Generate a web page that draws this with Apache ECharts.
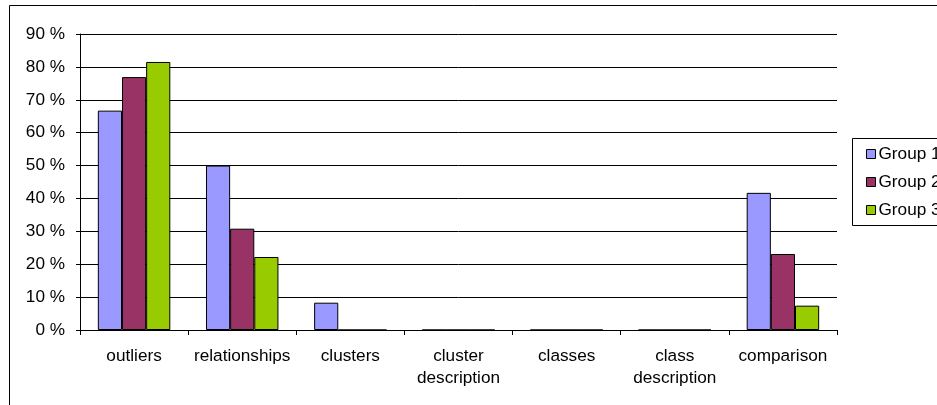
<!DOCTYPE html>
<html>
<head>
<meta charset="utf-8">
<script src="https://cdn.jsdelivr.net/npm/echarts@6/dist/echarts.min.js"></script>
<style>
  html, body { margin: 0; padding: 0; background: #fff; }
  #chart { width: 937px; height: 405px; }
</style>
</head>
<body>
<div id="chart"></div>
<script>
// Task categories shown along the x axis
const categories = ['outliers', 'relationships', 'clusters', 'cluster\ndescription', 'classes', 'class\ndescription', 'comparison'];

// Share of each group (percent) per task category
const group1 = [66.7, 50.0, 8.3, 0, 0, 0, 41.7];
const group2 = [76.9, 30.8, 0, 0, 0, 0, 23.1];
const group3 = [81.5, 22.2, 0, 0, 0, 0, 7.4];

const seriesNames = ['Group 1', 'Group 2', 'Group 3'];
const seriesColors = ['#9999FF', '#993366', '#99CC00'];
const seriesData = [group1, group2, group3];

// Y axis scale (percent)
const yMin = 0, yMax = 90, yStep = 10;

const FONT = 'Liberation Sans, Arial, sans-serif';
const FS = 17.2;

const chart = echarts.init(document.getElementById('chart'), null, { renderer: 'canvas' });

chart.setOption({
  animation: false,
  backgroundColor: '#ffffff',
  graphic: [
    // outer chart frame (runs past the right and bottom edges)
    { type: 'rect', shape: { x: 9.5, y: 5.5, width: 1000, height: 500 },
      style: { fill: 'none', stroke: '#000', lineWidth: 1 }, z: 0 },
    // legend frame
    { type: 'rect', shape: { x: 852.5, y: 138.5, width: 120, height: 87 },
      style: { fill: '#fff', stroke: '#000', lineWidth: 1 }, z: 1 }
  ],
  grid: { left: 80, right: 100, top: 34, bottom: 75, containLabel: false },
  legend: {
    orient: 'vertical',
    left: 861,
    top: 140,
    itemWidth: 9,
    itemHeight: 9,
    itemGap: 10,
    icon: 'rect',
    data: seriesNames,
    itemStyle: { borderColor: '#000', borderWidth: 1 },
    textStyle: { fontFamily: FONT, fontSize: FS, color: '#000', lineHeight: 18, padding: [0, 0, 0, -2] },
    z: 5
  },
  xAxis: {
    type: 'category',
    data: categories,
    boundaryGap: true,
    axisLine: { show: true, lineStyle: { color: '#000', width: 1 } },
    axisTick: { show: true, length: 5, inside: false, lineStyle: { color: '#000' } },
    axisLabel: { fontFamily: FONT, fontSize: FS, color: '#000', margin: 15, lineHeight: 22, interval: 0 },
    splitLine: { show: false }
  },
  yAxis: {
    type: 'value',
    min: yMin,
    max: yMax,
    interval: yStep,
    axisLine: { show: true, lineStyle: { color: '#000', width: 1 } },
    axisTick: { show: true, length: 4, inside: false, lineStyle: { color: '#000' } },
    axisLabel: { fontFamily: FONT, fontSize: FS, color: '#000', margin: 15, formatter: '{value} %' },
    splitLine: { show: true, lineStyle: { color: '#000', width: 1 } }
  },
  series: seriesNames.map((name, i) => ({
    name: name,
    type: 'bar',
    data: seriesData[i],
    barGap: '0%',
    barCategoryGap: '33%',
    itemStyle: { color: seriesColors[i], borderColor: '#000', borderWidth: 1 },
    emphasis: { disabled: true }
  }))
});
</script>
</body>
</html>
